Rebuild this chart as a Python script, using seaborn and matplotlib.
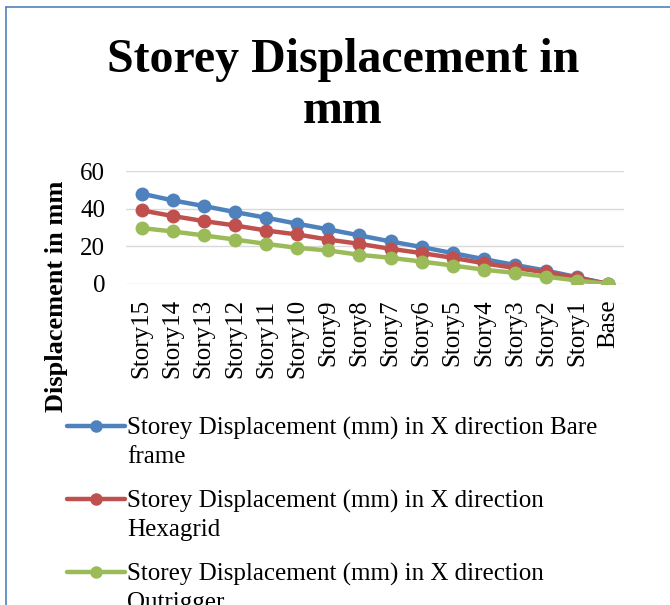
import pandas as pd
import matplotlib.pyplot as plt
import seaborn as sns
from matplotlib.lines import Line2D

stories = ['Story15', 'Story14', 'Story13', 'Story12', 'Story11', 'Story10', 'Story9', 'Story8',
           'Story7', 'Story6', 'Story5', 'Story4', 'Story3', 'Story2', 'Story1', 'Base']
bare_frame = [48.0, 44.4, 41.4, 38.2, 35.2, 32.0, 29.0, 25.8, 22.6, 19.6, 16.4, 13.2, 10.1, 7.1, 3.6, 0.0]
hexagrid = [39.1, 36.1, 33.4, 31.1, 28.4, 26.3, 23.6, 21.3, 18.7, 16.4, 13.9, 11.0, 8.5, 6.2, 3.2, 0.0]
outrigger = [29.7, 27.9, 25.8, 23.6, 21.3, 19.2, 17.8, 15.5, 13.9, 11.9, 9.8, 7.6, 5.9, 3.9, 1.8, 0.0]

series_names = ['Storey Displacement (mm) in X direction Bare\nframe',
                'Storey Displacement (mm) in X direction\nHexagrid',
                'Storey Displacement (mm) in X direction\nOutrigger']
colors = ['#4F81BD', '#C0504D', '#9BBB59']

df = pd.concat([
    pd.DataFrame({'story': stories, 'disp': vals, 'series': name})
    for name, vals in zip(series_names, [bare_frame, hexagrid, outrigger])
])

sns.set_style('white')
plt.rcParams['font.family'] = ['Liberation Serif', 'DejaVu Serif']
plt.rcParams['text.color'] = 'black'
plt.rcParams['xtick.color'] = 'black'
plt.rcParams['ytick.color'] = 'black'

fig = plt.figure(figsize=(6.7, 6.05), dpi=100)
ax = fig.add_axes([126 / 670, 1 - 284 / 605, 498 / 670, 113 / 605])

sns.lineplot(data=df, x='story', y='disp', hue='series', palette=colors, sort=False,
             marker='o', markersize=10, markeredgewidth=0, linewidth=3.2, ax=ax, legend=False)

ax.set_ylim(0, 60)
ax.set_yticks([0, 20, 40, 60])
ax.set_xlim(-0.5, len(stories) - 0.5)
ax.yaxis.grid(True, color='#D9D9D9', linewidth=1)
ax.set_axisbelow(True)
for s in ax.spines.values():
    s.set_visible(False)
ax.tick_params(axis='y', length=0, pad=15, labelsize=18)
ax.tick_params(axis='x', length=0, pad=11, labelsize=18, labelrotation=90)
ax.set_xlabel('')
ax.set_ylabel('')

fig.text(57 / 670, 1 - 296 / 605, 'Displacement in mm', rotation=90, ha='center', va='center',
         fontsize=19, fontweight='bold')
fig.suptitle('Storey Displacement in\nmm', x=0.512, y=1 - 38 / 605, fontsize=34.5,
             fontweight='bold', linespacing=1.2, va='top')

handles = [Line2D([], [], color=c, linewidth=3.2, marker='o', markersize=9, markeredgewidth=0)
           for c in colors]
leg = fig.legend(handles, series_names, loc='upper left', bbox_to_anchor=(67 / 670, 1 - 417 / 605),
                 frameon=False, fontsize=18, handlelength=2.3, handletextpad=0.1,
                 borderpad=0, borderaxespad=0, labelspacing=0.88)
for t in leg.get_texts():
    t.set_linespacing(1.35)
for col in leg._legend_handle_box.get_children():
    for row in col.get_children():
        row.align = 'top'

# chart border (top and left edges visible)
fig.add_artist(Line2D([6 / 670, 6 / 670], [0, 1 - 7 / 605], color='#4F81BD', linewidth=1.2))
fig.add_artist(Line2D([6 / 670, 1], [1 - 7 / 605, 1 - 7 / 605], color='#4F81BD', linewidth=1.2))

fig.savefig('out.png', dpi=100)
